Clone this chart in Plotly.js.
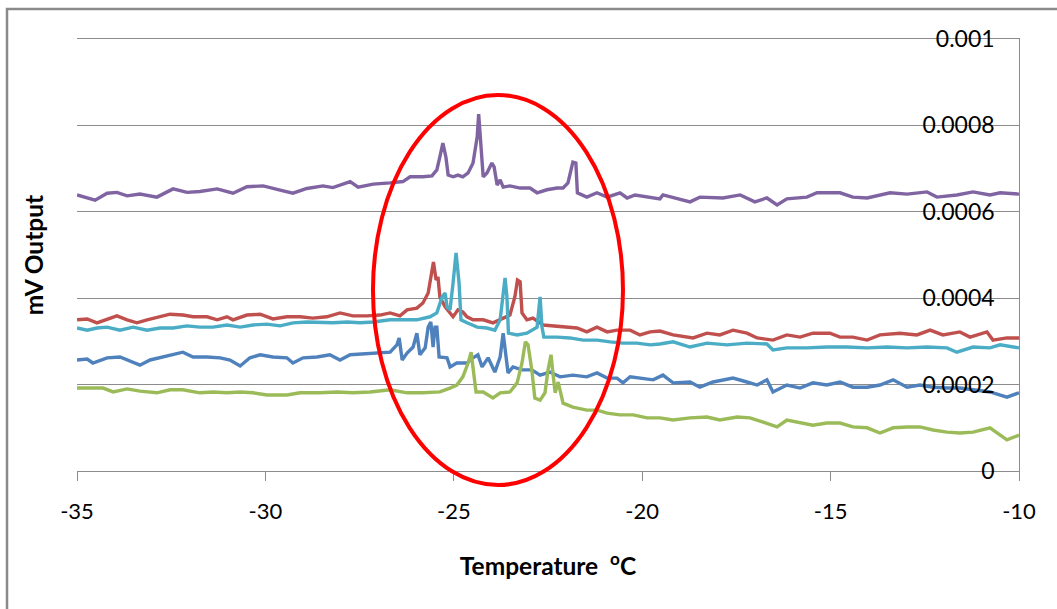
<!DOCTYPE html>
<html>
<head>
<meta charset="utf-8">
<script src="https://cdn.plot.ly/plotly-3.0.1.min.js"></script>
<style>
html,body{margin:0;padding:0;background:#fff;}
#chart{width:1057px;height:609px;}
</style>
</head>
<body>
<div id="chart"></div>
<script>
// values are in units of 1e-5 mV
const UNIT = 1e-5;

const blueT = [-35.00,-34.73,-34.58,-34.20,-33.86,-33.51,-33.33,-33.06,-32.80,-32.45,-32.19,-31.92,-31.55,-31.20,-30.94,-30.67,-30.41,-30.14,-29.80,-29.43,-29.27,-29.00,-28.63,-28.29,-28.02,-27.75,-27.41,-27.04,-26.69,-26.51,-26.45,-26.37,-26.24,-26.08,-25.98,-25.90,-25.76,-25.68,-25.61,-25.55,-25.50,-25.45,-25.39,-25.18,-25.10,-24.92,-24.65,-24.49,-24.36,-24.25,-24.09,-23.91,-23.77,-23.69,-23.61,-23.56,-23.43,-23.19,-22.93,-22.71,-22.45,-22.18,-21.84,-21.47,-21.20,-20.93,-20.67,-20.51,-20.32,-19.98,-19.71,-19.45,-19.18,-18.73,-18.47,-18.12,-17.59,-17.22,-16.95,-16.69,-16.53,-16.16,-15.81,-15.47,-15.10,-14.75,-14.41,-14.03,-13.69,-13.34,-12.97,-12.63,-12.28,-11.91,-11.57,-11.22,-10.77,-10.32,-10.00];
const blueV = [25.7,25.9,25.0,26.2,26.4,25.2,24.5,25.7,26.2,26.9,27.5,26.4,26.4,26.2,25.7,24.3,26.2,26.9,26.4,26.2,25.0,26.2,26.4,26.9,25.7,26.9,27.1,27.3,27.5,29.2,30.8,25.7,27.3,28.7,31.9,26.9,28.5,33.3,34.5,28.7,33.3,33.3,26.4,26.2,24.1,25.0,25.0,26.2,26.9,24.1,26.2,22.9,26.4,31.9,26.4,22.7,24.1,23.4,23.4,22.2,22.9,21.8,22.2,21.8,22.7,21.5,21.5,20.4,21.8,21.5,21.1,22.2,20.4,20.6,19.4,20.6,21.5,20.6,19.9,21.1,18.3,19.9,19.2,20.4,19.9,20.6,19.4,19.4,19.9,21.1,19.4,19.9,19.4,19.2,19.2,18.8,18.3,17.1,18.1];

const redT = [-35.00,-34.73,-34.47,-34.20,-33.94,-33.67,-33.41,-33.14,-32.80,-32.53,-32.19,-31.92,-31.55,-31.28,-31.02,-30.86,-30.49,-30.14,-29.80,-29.43,-29.08,-28.74,-28.37,-28.02,-27.68,-27.30,-26.96,-26.69,-26.43,-26.24,-25.98,-25.82,-25.68,-25.61,-25.54,-25.47,-25.42,-25.37,-25.23,-25.02,-24.89,-24.76,-24.65,-24.49,-24.22,-23.96,-23.69,-23.51,-23.38,-23.31,-23.24,-23.19,-23.06,-22.90,-22.63,-22.37,-22.00,-21.73,-21.47,-21.20,-20.93,-20.67,-20.32,-20.06,-19.79,-19.53,-19.18,-18.65,-18.28,-17.94,-17.59,-17.22,-16.95,-16.53,-16.16,-15.81,-15.47,-15.02,-14.75,-14.41,-14.03,-13.69,-13.16,-12.71,-12.36,-12.02,-11.57,-11.30,-10.85,-10.69,-10.32,-10.00];
const redV = [35.0,35.2,34.3,35.2,35.9,35.0,34.3,35.0,35.7,36.3,36.1,35.7,35.7,35.0,35.7,35.0,36.1,36.3,35.2,35.7,35.7,35.4,35.7,36.6,35.9,35.9,36.1,36.6,35.9,37.3,37.7,38.9,41.2,45.4,48.4,44.2,44.9,40.3,38.0,35.7,37.3,36.8,35.7,35.0,35.0,34.3,35.4,36.1,40.3,44.2,43.8,36.6,35.0,35.4,33.8,33.6,33.3,33.1,32.2,33.3,32.2,32.6,32.6,31.5,32.2,32.4,31.5,30.8,31.9,31.5,32.6,31.9,30.8,30.3,31.5,31.0,31.9,31.9,31.0,31.0,30.3,31.5,31.9,31.5,32.6,31.5,32.2,31.0,32.2,30.3,30.8,30.8];

const greenT = [-35.00,-34.66,-34.31,-34.04,-33.67,-33.33,-32.88,-32.53,-32.19,-31.74,-31.39,-31.02,-30.67,-30.33,-29.96,-29.43,-29.08,-28.55,-28.10,-27.68,-27.22,-26.69,-26.24,-25.82,-25.37,-25.10,-24.92,-24.76,-24.62,-24.54,-24.49,-24.41,-24.22,-23.96,-23.77,-23.51,-23.32,-23.19,-23.10,-23.03,-22.93,-22.85,-22.71,-22.58,-22.50,-22.42,-22.37,-22.31,-22.23,-22.16,-22.10,-21.84,-21.47,-21.20,-20.93,-20.59,-20.24,-19.87,-19.53,-19.18,-18.73,-18.28,-17.94,-17.48,-17.14,-16.79,-16.42,-16.16,-15.81,-15.47,-15.10,-14.75,-14.41,-14.03,-13.69,-13.34,-12.97,-12.63,-12.28,-11.91,-11.57,-11.22,-10.77,-10.32,-10.00];
const greenV = [19.2,19.2,19.2,18.3,19.0,18.5,18.1,18.8,18.8,18.1,18.3,18.1,18.3,18.1,17.6,17.6,18.1,18.1,18.3,18.1,18.3,18.8,18.1,18.1,18.3,19.2,19.9,21.8,25.0,27.5,23.4,18.3,18.3,16.9,18.1,18.3,20.4,25.0,29.9,29.2,23.4,16.9,16.4,18.1,23.4,26.9,22.7,18.1,20.6,18.1,15.7,14.8,14.1,14.1,13.4,13.0,13.0,12.3,12.3,11.8,12.3,12.5,11.8,12.5,12.3,11.3,10.2,11.8,11.1,10.6,11.1,11.1,10.2,10.0,8.8,10.0,10.2,10.2,9.5,9.0,8.8,9.0,10.0,7.2,8.3];

const purpleT = [-35.00,-34.52,-34.20,-33.94,-33.67,-33.33,-32.88,-32.45,-32.08,-31.74,-31.28,-30.86,-30.49,-30.06,-29.61,-29.27,-28.90,-28.47,-28.21,-27.75,-27.54,-27.14,-26.69,-26.35,-26.16,-25.82,-25.58,-25.45,-25.37,-25.29,-25.21,-25.15,-25.02,-24.89,-24.76,-24.62,-24.49,-24.38,-24.34,-24.30,-24.22,-24.12,-23.99,-23.93,-23.85,-23.77,-23.69,-23.51,-23.24,-22.98,-22.79,-22.53,-22.26,-22.10,-21.97,-21.84,-21.76,-21.72,-21.47,-21.20,-20.93,-20.59,-20.40,-20.19,-19.87,-19.53,-19.45,-18.73,-18.47,-17.86,-17.40,-17.01,-16.69,-16.42,-16.16,-15.63,-15.36,-14.75,-14.41,-14.03,-13.42,-12.97,-12.44,-12.18,-11.65,-11.22,-10.77,-10.50,-10.00];
const purpleV = [63.9,62.7,64.3,64.5,63.7,64.1,63.4,65.3,64.5,64.7,65.3,64.3,65.8,66.0,65.0,64.3,65.4,66.0,65.6,67.0,65.7,66.4,66.7,67.0,68.1,68.1,68.3,69.7,72.7,75.9,72.7,68.5,68.1,68.5,68.1,69.0,71.3,77.3,82.6,77.3,68.1,69.0,71.3,70.4,66.2,67.4,65.7,66.0,65.5,65.5,64.4,65.1,65.5,65.5,66.7,71.5,71.3,64.4,63.4,64.4,63.4,64.4,63.2,63.9,63.4,63.0,63.9,62.3,63.4,63.2,63.9,62.3,63.2,61.6,63.0,63.4,64.4,64.4,63.4,63.2,64.4,64.1,64.6,63.4,63.9,64.6,63.9,64.4,64.1];

const cyanT = [-35.00,-34.73,-34.47,-34.20,-33.86,-33.51,-33.14,-32.80,-32.45,-32.08,-31.74,-31.39,-31.02,-30.67,-30.33,-29.96,-29.61,-29.27,-28.90,-28.55,-28.21,-27.83,-27.49,-27.14,-26.69,-26.35,-25.98,-25.63,-25.45,-25.31,-25.23,-25.18,-25.10,-25.02,-24.94,-24.86,-24.81,-24.65,-24.38,-24.12,-23.91,-23.77,-23.69,-23.64,-23.59,-23.55,-23.32,-23.06,-22.79,-22.71,-22.66,-22.61,-22.26,-21.92,-21.57,-21.20,-20.85,-20.51,-20.14,-19.79,-19.53,-19.18,-18.73,-18.28,-17.75,-17.22,-16.69,-16.53,-16.16,-15.63,-15.10,-14.56,-14.03,-13.50,-12.97,-12.44,-11.91,-11.65,-11.22,-10.77,-10.50,-10.00];
const cyanV = [33.1,32.6,33.1,33.3,32.6,33.3,32.6,33.1,33.1,33.6,33.3,33.3,33.8,33.3,33.8,34.0,33.6,34.3,34.5,34.3,34.3,34.5,34.3,34.5,35.0,35.0,35.0,35.7,36.6,40.3,41.2,38.0,37.3,43.5,50.5,43.5,35.0,34.3,33.3,33.1,32.6,35.0,40.3,44.7,40.3,31.9,31.5,31.9,33.3,40.3,33.3,31.0,31.0,30.8,30.3,30.3,29.9,29.6,29.6,29.2,29.4,29.9,28.7,29.6,29.2,29.6,29.4,28.0,28.5,28.5,28.7,28.7,28.5,28.7,28.5,28.7,28.5,27.5,28.7,28.5,29.2,28.5];

const xTickVals = [-35,-30,-25,-20,-15,-10];
const xTickText = ['-35','-30','-25','-20','-15','-10'];
const yTickVals = [0,0.0002,0.0004,0.0006,0.0008,0.001];
const yTickText = ['0','0.0002','0.0004','0.0006','0.0008','0.001'];

const xTitle = 'Temperature  <sup>o</sup>C';
const yTitle = 'mV Output';

function series(t, v, color){
  return {
    x: t, y: v.map(a => a * UNIT), type: 'scatter', mode: 'lines',
    line: {color: color, width: 3.4, shape: 'linear'}, hoverinfo: 'skip', showlegend: false,
    cliponaxis: false
  };
}

const traces = [
  series(blueT, blueV, '#4F81BD'),
  series(redT, redV, '#C0504D'),
  series(greenT, greenV, '#9BBB59'),
  series(purpleT, purpleV, '#8064A2'),
  series(cyanT, cyanV, '#4BACC6')
];

const FONT = 'Lato, "Open Sans", "Liberation Sans", sans-serif';

const layout = {
  width: 1057, height: 609,
  margin: {l: 77, r: 38, t: 39, b: 138, pad: 0},
  paper_bgcolor: '#ffffff', plot_bgcolor: '#ffffff',
  showlegend: false,
  font: {family: FONT, color: '#000'},
  xaxis: {
    range: [-35, -10], tickvals: xTickVals, ticktext: xTickText,
    ticks: 'outside', ticklen: 9, tickwidth: 1, tickcolor: '#8c8c8c',
    showline: true, linecolor: '#8c8c8c', linewidth: 1, mirror: true,
    showgrid: false, zeroline: false,
    tickfont: {family: FONT, size: 22, color: '#000'},
    ticklabelstandoff: 12, ticklabeloverflow: 'allow',
    title: {text: xTitle, font: {family: FONT, size: 24.5, color: '#000', weight: 'bold'}, standoff: 34},
    automargin: false
  },
  yaxis: {
    range: [0, 0.001], tickvals: yTickVals, ticktext: yTickText,
    side: 'right', ticklabelposition: 'inside', ticks: '',
    showline: true, linecolor: '#8c8c8c', linewidth: 1,
    showgrid: true, gridcolor: '#8c8c8c', gridwidth: 1, zeroline: false,
    tickfont: {family: FONT, size: 23, color: '#000'},
    ticklabelstandoff: 26, ticklabeloverflow: 'allow',
    automargin: false
  },
  annotations: [{
    text: '<b>' + yTitle + '</b>', xref: 'paper', yref: 'paper',
    x: -0.0465, y: 0.5, xanchor: 'center', yanchor: 'middle',
    textangle: -90, showarrow: false,
    font: {family: FONT, size: 24.5, color: '#000'}
  }],
  shapes: [
    {type: 'rect', xref: 'paper', yref: 'paper', x0: -0.0743, x1: 1.2, y0: -0.6, y1: 1.0694,
     line: {color: '#8a8a8a', width: 2.5}, fillcolor: 'rgba(0,0,0,0)', layer: 'below'},
    {type: 'circle', xref: 'paper', yref: 'paper', x0: 0.3142, x1: 0.5796, y0: -0.0324, y1: 0.8704,
     line: {color: '#ff0000', width: 4}, fillcolor: 'rgba(0,0,0,0)', layer: 'above'}
  ]
};

Plotly.newPlot('chart', traces, layout, {staticPlot: true, displayModeBar: false});
</script>
</body>
</html>
